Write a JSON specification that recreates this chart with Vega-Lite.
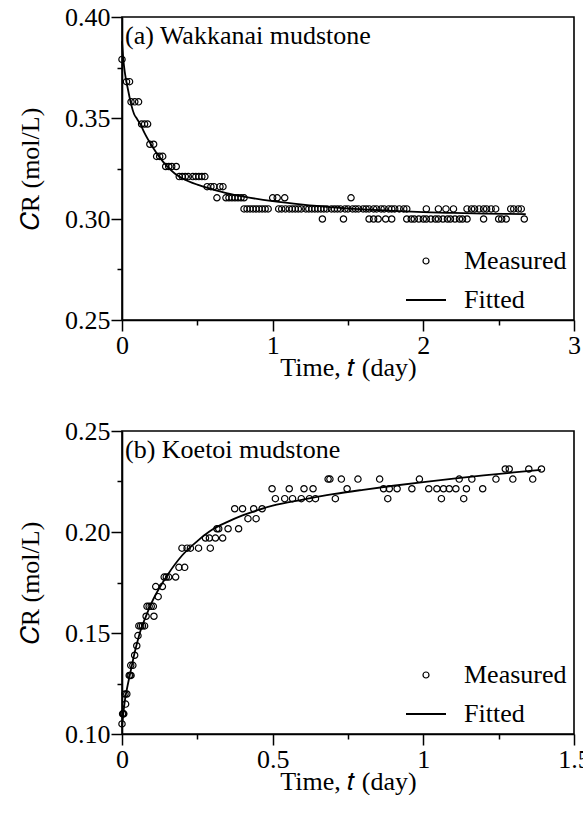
{
  "$schema": "https://vega.github.io/schema/vega-lite/v6.json",
  "autosize": {"type": "pad"},
  "padding": {"left": 16, "top": 3, "right": 0, "bottom": 0},
  "background": "white",
  "config": {
    "font": "Liberation Serif",
    "view": {"stroke": "black", "strokeWidth": 1.6},
    "axis": {
      "domainColor": "black", "domainWidth": 1.6, "tickColor": "black", "tickWidth": 1.5,
      "labelFont": "Liberation Serif", "labelFontSize": 26, "labelColor": "black",
      "titleFont": "Liberation Serif", "titleFontSize": 26, "titleFontWeight": "normal", "titleColor": "black",
      "grid": false, "labelFlush": false, "labelOverlap": false, "labelBound": false
    },
    "legend": {
      "orient": "bottom-right", "offset": 7, "padding": 0, "rowPadding": 13,
      "labelFont": "Liberation Serif", "labelFontSize": 26, "labelColor": "black",
      "labelOffset": 25, "symbolSize": 1600, "title": null
    },
    "title": {"font": "Liberation Serif", "fontSize": 26, "fontWeight": "normal", "color": "black", "anchor": "start", "frame": "group"}
  },
  "datasets": {
    "a_meas": [
      {"t": 0, "c": 0.379},
      {"t": 0.03, "c": 0.368}, {"t": 0.05, "c": 0.368},
      {"t": 0.06, "c": 0.358}, {"t": 0.085, "c": 0.358}, {"t": 0.11, "c": 0.358},
      {"t": 0.13, "c": 0.347}, {"t": 0.15, "c": 0.347}, {"t": 0.17, "c": 0.347},
      {"t": 0.185, "c": 0.337}, {"t": 0.21, "c": 0.337},
      {"t": 0.23, "c": 0.331}, {"t": 0.25, "c": 0.331}, {"t": 0.27, "c": 0.331},
      {"t": 0.29, "c": 0.326}, {"t": 0.31, "c": 0.326}, {"t": 0.33, "c": 0.326}, {"t": 0.36, "c": 0.326},
      {"t": 0.38, "c": 0.321}, {"t": 0.40, "c": 0.321}, {"t": 0.42, "c": 0.321}, {"t": 0.44, "c": 0.321}, {"t": 0.47, "c": 0.321},
      {"t": 0.49, "c": 0.321}, {"t": 0.51, "c": 0.321}, {"t": 0.53, "c": 0.321}, {"t": 0.55, "c": 0.321},
      {"t": 0.565, "c": 0.316}, {"t": 0.59, "c": 0.316}, {"t": 0.61, "c": 0.316}, {"t": 0.65, "c": 0.316}, {"t": 0.67, "c": 0.316},
      {"t": 0.63, "c": 0.3105}, {"t": 0.69, "c": 0.3105}, {"t": 0.71, "c": 0.3105}, {"t": 0.73, "c": 0.3105}, {"t": 0.75, "c": 0.3105},
      {"t": 0.77, "c": 0.3105}, {"t": 0.79, "c": 0.3105}, {"t": 0.81, "c": 0.3105}, {"t": 1.00, "c": 0.3105}, {"t": 1.03, "c": 0.3105},
      {"t": 1.08, "c": 0.3105}, {"t": 1.52, "c": 0.3105},
      {"t": 0.81, "c": 0.305}, {"t": 0.83, "c": 0.305}, {"t": 0.85, "c": 0.305}, {"t": 0.87, "c": 0.305}, {"t": 0.89, "c": 0.305},
      {"t": 0.91, "c": 0.305}, {"t": 0.93, "c": 0.305}, {"t": 0.95, "c": 0.305}, {"t": 0.97, "c": 0.305}, {"t": 1.04, "c": 0.305},
      {"t": 1.06, "c": 0.305}, {"t": 1.085, "c": 0.305}, {"t": 1.11, "c": 0.305}, {"t": 1.13, "c": 0.305}, {"t": 1.15, "c": 0.305},
      {"t": 1.17, "c": 0.305}, {"t": 1.19, "c": 0.305}, {"t": 1.22, "c": 0.305}, {"t": 1.24, "c": 0.305}, {"t": 1.26, "c": 0.305},
      {"t": 1.28, "c": 0.305}, {"t": 1.30, "c": 0.305}, {"t": 1.32, "c": 0.305}, {"t": 1.34, "c": 0.305}, {"t": 1.36, "c": 0.305},
      {"t": 1.39, "c": 0.305}, {"t": 1.41, "c": 0.305}, {"t": 1.43, "c": 0.305}, {"t": 1.45, "c": 0.305}, {"t": 1.48, "c": 0.305},
      {"t": 1.50, "c": 0.305}, {"t": 1.53, "c": 0.305}, {"t": 1.55, "c": 0.305}, {"t": 1.57, "c": 0.305}, {"t": 1.60, "c": 0.305},
      {"t": 1.62, "c": 0.305}, {"t": 1.64, "c": 0.305}, {"t": 1.67, "c": 0.305}, {"t": 1.69, "c": 0.305}, {"t": 1.72, "c": 0.305},
      {"t": 1.74, "c": 0.305}, {"t": 1.77, "c": 0.305}, {"t": 1.79, "c": 0.305}, {"t": 1.81, "c": 0.305}, {"t": 1.84, "c": 0.305},
      {"t": 1.87, "c": 0.305}, {"t": 1.89, "c": 0.305}, {"t": 2.02, "c": 0.305}, {"t": 2.10, "c": 0.305}, {"t": 2.15, "c": 0.305},
      {"t": 2.20, "c": 0.305}, {"t": 2.29, "c": 0.305}, {"t": 2.32, "c": 0.305}, {"t": 2.34, "c": 0.305}, {"t": 2.37, "c": 0.305},
      {"t": 2.40, "c": 0.305}, {"t": 2.42, "c": 0.305}, {"t": 2.45, "c": 0.305}, {"t": 2.48, "c": 0.305}, {"t": 2.58, "c": 0.305},
      {"t": 2.60, "c": 0.305}, {"t": 2.63, "c": 0.305}, {"t": 2.65, "c": 0.305},
      {"t": 1.33, "c": 0.300}, {"t": 1.47, "c": 0.300}, {"t": 1.64, "c": 0.300}, {"t": 1.67, "c": 0.300}, {"t": 1.70, "c": 0.300},
      {"t": 1.75, "c": 0.300}, {"t": 1.79, "c": 0.300}, {"t": 1.89, "c": 0.300}, {"t": 1.92, "c": 0.300}, {"t": 1.94, "c": 0.300},
      {"t": 1.97, "c": 0.300}, {"t": 2.00, "c": 0.300}, {"t": 2.02, "c": 0.300}, {"t": 2.05, "c": 0.300}, {"t": 2.08, "c": 0.300},
      {"t": 2.10, "c": 0.300}, {"t": 2.13, "c": 0.300}, {"t": 2.16, "c": 0.300}, {"t": 2.18, "c": 0.300}, {"t": 2.21, "c": 0.300},
      {"t": 2.24, "c": 0.300}, {"t": 2.26, "c": 0.300}, {"t": 2.29, "c": 0.300}, {"t": 2.40, "c": 0.300}, {"t": 2.50, "c": 0.300},
      {"t": 2.52, "c": 0.300}, {"t": 2.55, "c": 0.300}, {"t": 2.67, "c": 0.300}
    ],
    "a_fit": [
      {"t": 0, "c": 0.388}, {"t": 0.01, "c": 0.378}, {"t": 0.02, "c": 0.372}, {"t": 0.04, "c": 0.364},
      {"t": 0.06, "c": 0.357}, {"t": 0.08, "c": 0.352}, {"t": 0.10, "c": 0.3495}, {"t": 0.125, "c": 0.3465},
      {"t": 0.15, "c": 0.3425}, {"t": 0.2, "c": 0.336}, {"t": 0.25, "c": 0.3305}, {"t": 0.3, "c": 0.326},
      {"t": 0.35, "c": 0.3225}, {"t": 0.4, "c": 0.3202}, {"t": 0.5, "c": 0.317}, {"t": 0.6, "c": 0.3147},
      {"t": 0.7, "c": 0.3127}, {"t": 0.8, "c": 0.3112}, {"t": 1.0, "c": 0.3088}, {"t": 1.2, "c": 0.3071},
      {"t": 1.4, "c": 0.3058}, {"t": 1.6, "c": 0.3048}, {"t": 1.8, "c": 0.304}, {"t": 2.0, "c": 0.3034},
      {"t": 2.2, "c": 0.303}, {"t": 2.4, "c": 0.3027}, {"t": 2.68, "c": 0.3024}
    ],
    "b_meas": [
      {"t": 0, "c": 0.105},
      {"t": 0.002, "c": 0.110}, {"t": 0.004, "c": 0.110}, {"t": 0.006, "c": 0.110},
      {"t": 0.012, "c": 0.1148},
      {"t": 0.01, "c": 0.1198}, {"t": 0.016, "c": 0.1198},
      {"t": 0.024, "c": 0.129}, {"t": 0.027, "c": 0.129}, {"t": 0.030, "c": 0.129},
      {"t": 0.029, "c": 0.134}, {"t": 0.036, "c": 0.134},
      {"t": 0.042, "c": 0.139}, {"t": 0.049, "c": 0.1437}, {"t": 0.053, "c": 0.1487},
      {"t": 0.056, "c": 0.1535}, {"t": 0.062, "c": 0.1535}, {"t": 0.068, "c": 0.1535}, {"t": 0.075, "c": 0.1535},
      {"t": 0.08, "c": 0.1583}, {"t": 0.106, "c": 0.1583},
      {"t": 0.083, "c": 0.1632}, {"t": 0.09, "c": 0.1632}, {"t": 0.097, "c": 0.1632}, {"t": 0.104, "c": 0.1632},
      {"t": 0.12, "c": 0.168},
      {"t": 0.112, "c": 0.173}, {"t": 0.134, "c": 0.173},
      {"t": 0.14, "c": 0.1777}, {"t": 0.147, "c": 0.1777}, {"t": 0.155, "c": 0.1777}, {"t": 0.178, "c": 0.1777},
      {"t": 0.189, "c": 0.1825}, {"t": 0.208, "c": 0.1825},
      {"t": 0.199, "c": 0.192}, {"t": 0.216, "c": 0.192}, {"t": 0.227, "c": 0.192}, {"t": 0.254, "c": 0.192}, {"t": 0.293, "c": 0.192},
      {"t": 0.277, "c": 0.197}, {"t": 0.29, "c": 0.197}, {"t": 0.31, "c": 0.197}, {"t": 0.334, "c": 0.197},
      {"t": 0.315, "c": 0.2016}, {"t": 0.321, "c": 0.2016}, {"t": 0.352, "c": 0.2016}, {"t": 0.387, "c": 0.2016},
      {"t": 0.418, "c": 0.2066}, {"t": 0.445, "c": 0.2066},
      {"t": 0.374, "c": 0.2115}, {"t": 0.40, "c": 0.2115}, {"t": 0.437, "c": 0.2115}, {"t": 0.465, "c": 0.2115},
      {"t": 0.509, "c": 0.2165}, {"t": 0.54, "c": 0.2165}, {"t": 0.566, "c": 0.2165}, {"t": 0.595, "c": 0.2165}, {"t": 0.622, "c": 0.2165},
      {"t": 0.642, "c": 0.2165}, {"t": 0.708, "c": 0.2165}, {"t": 0.882, "c": 0.2165}, {"t": 1.06, "c": 0.2165}, {"t": 1.134, "c": 0.2165},
      {"t": 0.498, "c": 0.2214}, {"t": 0.555, "c": 0.2214}, {"t": 0.604, "c": 0.2214}, {"t": 0.634, "c": 0.2214}, {"t": 0.747, "c": 0.2214},
      {"t": 0.868, "c": 0.2214}, {"t": 0.887, "c": 0.2214}, {"t": 0.913, "c": 0.2214}, {"t": 0.962, "c": 0.2214}, {"t": 1.018, "c": 0.2214},
      {"t": 1.045, "c": 0.2214}, {"t": 1.067, "c": 0.2214}, {"t": 1.086, "c": 0.2214}, {"t": 1.108, "c": 0.2214}, {"t": 1.143, "c": 0.2214},
      {"t": 1.197, "c": 0.2214},
      {"t": 0.684, "c": 0.2262}, {"t": 0.69, "c": 0.2262}, {"t": 0.728, "c": 0.2262}, {"t": 0.783, "c": 0.2262}, {"t": 0.855, "c": 0.2262},
      {"t": 0.987, "c": 0.2262}, {"t": 1.119, "c": 0.2262}, {"t": 1.161, "c": 0.2262}, {"t": 1.241, "c": 0.2262}, {"t": 1.297, "c": 0.2262},
      {"t": 1.363, "c": 0.2262},
      {"t": 1.272, "c": 0.2312}, {"t": 1.285, "c": 0.2312}, {"t": 1.35, "c": 0.2312}, {"t": 1.392, "c": 0.2312}
    ],
    "b_fit": [
      {"t": 0, "c": 0.104}, {"t": 0.005, "c": 0.111}, {"t": 0.01, "c": 0.117}, {"t": 0.02, "c": 0.125},
      {"t": 0.03, "c": 0.132}, {"t": 0.04, "c": 0.139}, {"t": 0.05, "c": 0.145}, {"t": 0.06, "c": 0.1505},
      {"t": 0.08, "c": 0.1585}, {"t": 0.1, "c": 0.1655}, {"t": 0.125, "c": 0.1725}, {"t": 0.15, "c": 0.1785},
      {"t": 0.2, "c": 0.1885}, {"t": 0.25, "c": 0.1955}, {"t": 0.3, "c": 0.2012}, {"t": 0.35, "c": 0.205},
      {"t": 0.4, "c": 0.2082}, {"t": 0.45, "c": 0.2108}, {"t": 0.5, "c": 0.213}, {"t": 0.6, "c": 0.216},
      {"t": 0.7, "c": 0.2187}, {"t": 0.8, "c": 0.2209}, {"t": 0.9, "c": 0.2229}, {"t": 1.0, "c": 0.2247},
      {"t": 1.1, "c": 0.2264}, {"t": 1.2, "c": 0.228}, {"t": 1.3, "c": 0.2295}, {"t": 1.39, "c": 0.2308}
    ]
  },
  "spacing": 36,
  "vconcat": [
    {
      "width": 452, "height": 303,
      "title": {"text": "(a) Wakkanai mudstone", "offset": -66, "baseline": "alphabetic", "dx": 3},
      "layer": [
        {
          "data": {"name": "a_meas"},
          "mark": {"type": "point", "shape": "circle", "filled": false, "size": 40, "strokeWidth": 1.2, "opacity": 1},
          "encoding": {
            "x": {"field": "t", "type": "quantitative", "scale": {"domain": [0, 3], "nice": false},
                  "axis": {"orient": "bottom", "values": [0, 1, 2, 3], "format": "~g", "tickSize": 11, "labelPadding": 1, "title": "Time, 𝑡 (day)", "titlePadding": -4}},
            "y": {"field": "c", "type": "quantitative", "scale": {"domain": [0.25, 0.40], "nice": false, "zero": false},
                  "axis": {"orient": "left", "values": [0.25, 0.3, 0.35, 0.4], "format": ".2f", "tickSize": 11, "labelPadding": 1, "title": "𝐶R (mol/L)", "titlePadding": 21}},
            "color": {"datum": "Measured", "type": "nominal",
                      "scale": {"domain": ["Measured", "Fitted"], "range": ["black", "black"]},
                      "legend": {"encode": {"symbols": {"update": {
                        "shape": {"signal": "datum.value === 'Fitted' ? 'stroke' : 'circle'"},
                        "size": {"signal": "datum.value === 'Fitted' ? 1600 : 36"},
                        "strokeWidth": {"signal": "datum.value === 'Fitted' ? 1.8 : 1.2"},
                        "stroke": {"value": "black"}, "fill": {"value": "transparent"}, "opacity": {"value": 1}}}}}}
          }
        },
        {
          "data": {"name": "a_fit"},
          "mark": {"type": "line", "strokeWidth": 1.8, "interpolate": "monotone"},
          "encoding": {
            "x": {"field": "t", "type": "quantitative",
                  "axis": {"orient": "bottom", "values": [0.5, 1.5, 2.5], "tickSize": 5, "labels": false, "domain": false, "title": null}},
            "y": {"field": "c", "type": "quantitative",
                  "axis": {"orient": "left", "values": [0.275, 0.325, 0.375], "tickSize": 5, "labels": false, "domain": false, "title": null}},
            "color": {"datum": "Fitted", "type": "nominal",
                      "legend": {"encode": {"symbols": {"update": {
                        "shape": {"signal": "datum.value === 'Fitted' ? 'stroke' : 'circle'"},
                        "size": {"signal": "datum.value === 'Fitted' ? 1600 : 36"},
                        "strokeWidth": {"signal": "datum.value === 'Fitted' ? 1.8 : 1.2"},
                        "stroke": {"value": "black"}, "fill": {"value": "transparent"}, "opacity": {"value": 1}}}}}}
          }
        }
      ],
      "resolve": {"axis": {"x": "independent", "y": "independent"}}
    },
    {
      "width": 452, "height": 303,
      "title": {"text": "(b) Koetoi mudstone", "offset": -66, "baseline": "alphabetic", "dx": 3},
      "layer": [
        {
          "data": {"name": "b_meas"},
          "mark": {"type": "point", "shape": "circle", "filled": false, "size": 40, "strokeWidth": 1.2, "opacity": 1},
          "encoding": {
            "x": {"field": "t", "type": "quantitative", "scale": {"domain": [0, 1.5], "nice": false},
                  "axis": {"orient": "bottom", "values": [0, 0.5, 1, 1.5], "format": "~g", "tickSize": 11, "labelPadding": 1, "title": "Time, 𝑡 (day)", "titlePadding": -4}},
            "y": {"field": "c", "type": "quantitative", "scale": {"domain": [0.10, 0.25], "nice": false, "zero": false},
                  "axis": {"orient": "left", "values": [0.1, 0.15, 0.2, 0.25], "format": ".2f", "tickSize": 11, "labelPadding": 1, "title": "𝐶R (mol/L)", "titlePadding": 21}},
            "color": {"datum": "Measured", "type": "nominal",
                      "scale": {"domain": ["Measured", "Fitted"], "range": ["black", "black"]},
                      "legend": {"encode": {"symbols": {"update": {
                        "shape": {"signal": "datum.value === 'Fitted' ? 'stroke' : 'circle'"},
                        "size": {"signal": "datum.value === 'Fitted' ? 1600 : 36"},
                        "strokeWidth": {"signal": "datum.value === 'Fitted' ? 1.8 : 1.2"},
                        "stroke": {"value": "black"}, "fill": {"value": "transparent"}, "opacity": {"value": 1}}}}}}
          }
        },
        {
          "data": {"name": "b_fit"},
          "mark": {"type": "line", "strokeWidth": 1.8, "interpolate": "monotone"},
          "encoding": {
            "x": {"field": "t", "type": "quantitative",
                  "axis": {"orient": "bottom", "values": [0.25, 0.75, 1.25], "tickSize": 5, "labels": false, "domain": false, "title": null}},
            "y": {"field": "c", "type": "quantitative",
                  "axis": {"orient": "left", "values": [0.125, 0.175, 0.225], "tickSize": 5, "labels": false, "domain": false, "title": null}},
            "color": {"datum": "Fitted", "type": "nominal",
                      "legend": {"encode": {"symbols": {"update": {
                        "shape": {"signal": "datum.value === 'Fitted' ? 'stroke' : 'circle'"},
                        "size": {"signal": "datum.value === 'Fitted' ? 1600 : 36"},
                        "strokeWidth": {"signal": "datum.value === 'Fitted' ? 1.8 : 1.2"},
                        "stroke": {"value": "black"}, "fill": {"value": "transparent"}, "opacity": {"value": 1}}}}}}
          }
        }
      ],
      "resolve": {"axis": {"x": "independent", "y": "independent"}}
    }
  ],
  "resolve": {"scale": {"color": "independent"}, "legend": {"color": "independent"}}
}
